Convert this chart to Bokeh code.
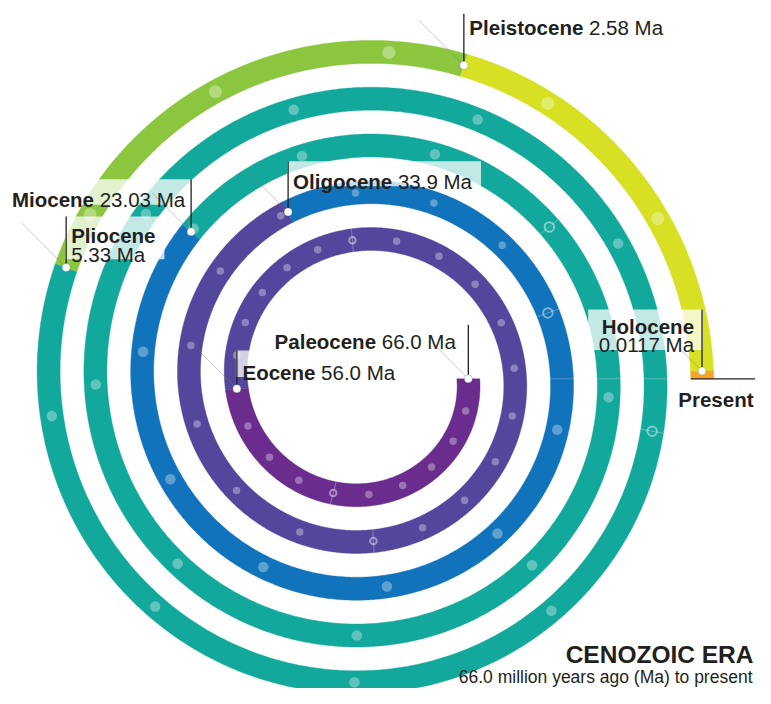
import numpy as np
from bokeh.plotting import figure
from bokeh.models import Range1d, ColumnDataSource
from bokeh.core.properties import value
from bokeh.embed import file_html
from bokeh.resources import INLINE

# ---------------- data ----------------
EPOCHS = ["Paleocene", "Eocene", "Oligocene", "Miocene", "Pliocene", "Pleistocene", "Holocene"]
START_MA = [66.0, 56.0, 33.9, 23.03, 5.33, 2.58, 0.0117]
START_TEXT = ["66.0 Ma", "56.0 Ma", "33.9 Ma", "23.03 Ma", "5.33 Ma", "2.58 Ma", "0.0117 Ma"]
PRESENT_MA = 0.0
TICK_EVERY_MA = 10      # hollow markers
DOT_EVERY_MA = 1        # small dots

TITLE = "CENOZOIC ERA"
SUBTITLE = "66.0 million years ago (Ma) to present"
END_LABEL = "Present"

# ---------------- style ----------------
COLORS = ["#6a2d8e", "#52479d", "#1073bb", "#13a89c", "#8cc63f", "#d7e023", "#f5a623"]
INK = "#231f20"
FONT = "Liberation Sans"
LABEL_PX = 20.5

# ---------------- spiral scale: age (Ma) -> degrees along the spiral ----------------
SCALE_AGE = [66.0, 60.0, 56.0, 50.0, 40.0, 33.9, 30.0, 23.03, 20.0, 15.0, 10.0, 5.33, 2.58, 0.0117, 0.0]
SCALE_DEG = [0.0, 105.0, 175.5, 265.3, 446.6, 605.6, 700.3, 940.4, 1040.7, 1258.8, 1450.3, 1640.5, 1727.7, 1798.7, 1800.0]

CX, CY = 363.3, 378.3
R0, PITCH, BAND = 104.5, 46.8, 23.0

W, H = 755, 688


def to_deg(age):
    return np.interp(np.asarray(age, float), SCALE_AGE[::-1], SCALE_DEG[::-1])


def pos(deg, off=0.0):
    deg = np.asarray(deg, float)
    r = R0 + PITCH * deg / 360.0 + off
    a = np.radians(deg)
    return CX + r * np.cos(a), CY + r * np.sin(a)


# Arial / Liberation Sans advance widths (1/1000 em) for label measuring
W_REG = {" ": 278, ".": 278, "M": 833, "a": 556}
W_REG.update({d: 556 for d in "0123456789"})
W_BOLD = {"P": 667, "a": 556, "l": 278, "e": 556, "o": 611, "c": 556, "n": 611, "E": 667,
          "O": 778, "i": 278, "g": 611, "M": 833, "H": 722, "s": 556, "t": 333, "r": 389}


def tw(s, table, px):
    return sum(table.get(ch, 556) for ch in s) * px / 1000.0


# label layout: side of the leader, leader length, baseline below leader top, gap, lines, faint diagonal length
LAYOUT = {
    "Paleocene":   dict(side="left",  leader=54.0, base=16.6, gap=12.5, lines=1, diag=52),
    "Eocene":      dict(side="right", leader=38.3, base=21.6, gap=5.6,  lines=1, diag=53),
    "Oligocene":   dict(side="right", leader=50.7, base=20.0, gap=5.0,  lines=1, diag=57),
    "Miocene":     dict(side="left",  leader=52.7, base=20.7, gap=6.0,  lines=1, diag=55),
    "Pliocene":    dict(side="right", leader=51.0, base=19.0, gap=5.0,  lines=2, diag=63),
    "Pleistocene": dict(side="right", leader=51.6, base=14.3, gap=5.5,  lines=1, diag=63),
    "Holocene":    dict(side="left",  leader=61.7, base=16.7, gap=8.0,  lines=2, diag=32),
}
LINE_STEP = 18.8

p = figure(width=W, height=H, x_range=Range1d(0, W), y_range=Range1d(H, 0),
           output_backend="svg", toolbar_location=None, min_border=0)
p.axis.visible = False
p.grid.visible = False
p.outline_line_color = None
p.background_fill_color = "white"
p.border_fill_color = "white"

# ---------------- spiral bands ----------------
ends = START_MA[1:] + [PRESENT_MA]
xs, ys = [], []
for a0, a1 in zip(START_MA, ends):
    d0, d1 = float(to_deg(a0)), float(to_deg(a1))
    n = max(2, int((d1 - d0) / 0.5) + 1)
    ds = np.linspace(d0, d1, n)
    xo, yo = pos(ds, BAND / 2)
    xi, yi = pos(ds[::-1], -BAND / 2)
    xs.append(list(xo) + list(xi))
    ys.append(list(yo) + list(yi))
p.patches(xs, ys, fill_color=COLORS, line_color=COLORS, line_width=0.4)

# faint joins on the right side
join_deg = np.array([720.0, 1080.0, 1440.0])
jx0, jy0 = pos(join_deg, -BAND / 2)
jx1, jy1 = pos(join_deg, BAND / 2)
p.segment(jx0, jy0, jx1, jy1, line_color="white", line_alpha=0.25, line_width=1)

# ---------------- 1-Ma dots and 10-Ma ticks ----------------
ages = np.arange(int(START_MA[0]) - DOT_EVERY_MA, 0, -DOT_EVERY_MA).astype(float)
is_tick = (ages % TICK_EVERY_MA) == 0
is_bound = np.isin(ages, START_MA)
dot_ages = ages[~is_tick & ~is_bound]
tick_ages = ages[is_tick]


def dot_size(a):
    return np.where(a > 30, 7.5, np.where(a > 5.33, 10.5, 13.0))


dx, dy = pos(to_deg(dot_ages))
p.scatter(dx, dy, size=dot_size(dot_ages), fill_color="white", fill_alpha=0.33, line_color=None)

td = to_deg(tick_ages)
tx0, ty0 = pos(td, -BAND / 2)
tx1, ty1 = pos(td, BAND / 2)
p.segment(tx0, ty0, tx1, ty1, line_color="white", line_alpha=0.3, line_width=1)
tx, ty = pos(td)
p.scatter(tx, ty, size=dot_size(tick_ages) - 1.0, fill_color=None, line_color="white",
          line_alpha=0.45, line_width=2)

# ---------------- labels ----------------
bold_l, bold_r, reg_l, reg_r = ([], [], []), ([], [], []), ([], [], []), ([], [], [])
box = dict(left=[], right=[], top=[], bottom=[])
lead = dict(x0=[], y0=[], x1=[], y1=[])
diag = dict(x0=[], y0=[], x1=[], y1=[])
ldx, ldy = [], []
SP = tw(" ", W_REG, LABEL_PX)


def put(store, x, y, t):
    store[0].append(x); store[1].append(y); store[2].append(t)


for name, age, txt in zip(EPOCHS, START_MA, START_TEXT):
    L = LAYOUT[name]
    xd, yd = pos(to_deg(age))
    xd, yd = float(xd), float(yd)
    top = yd - L["leader"]
    b1 = top + L["base"]
    lead["x0"].append(xd); lead["y0"].append(yd); lead["x1"].append(xd); lead["y1"].append(top)
    k = L["diag"] / np.sqrt(2)
    diag["x0"].append(xd); diag["y0"].append(yd); diag["x1"].append(xd - k); diag["y1"].append(yd - k)
    ldx.append(xd); ldy.append(yd)
    wb = tw(name, W_BOLD, LABEL_PX)
    wv = tw(txt, W_REG, LABEL_PX)
    if L["lines"] == 1:
        wtot = wb + SP + wv
        last = b1
    else:
        wtot = max(wb, wv)
        last = b1 + LINE_STEP
    if L["side"] == "right":
        x0 = xd + L["gap"]
        put(bold_l, x0, b1, name)
        if L["lines"] == 1:
            put(reg_l, x0 + wb + SP, b1, txt)
        else:
            put(reg_l, x0, last, txt)
        box["left"].append(xd - 1.0); box["right"].append(x0 + wtot + 9)
    else:
        xe = xd - L["gap"]
        if L["lines"] == 1:
            put(reg_r, xe, b1, txt)
            put(bold_r, xe - wv - SP, b1, name)
        else:
            put(bold_r, xe, b1, name)
            put(reg_r, xe, last, txt)
        box["left"].append(xe - wtot - 9); box["right"].append(xd + 1.0)
    box["top"].append(top); box["bottom"].append(last + 5)

p.quad(left=box["left"], right=box["right"], top=box["top"], bottom=box["bottom"],
       fill_color="white", fill_alpha=0.75, line_color=None)
p.segment(diag["x0"], diag["y0"], diag["x1"], diag["y1"], line_color="#7a7a7a",
          line_alpha=0.5, line_width=0.8)
p.segment(lead["x0"], lead["y0"], lead["x1"], lead["y1"], line_color=INK, line_width=1.3)
p.scatter(ldx, ldy, size=8, fill_color="white", line_color="#555555", line_alpha=0.35,
          line_width=0.8)


def draw_text(store, align, style):
    if not store[0]:
        return
    src = ColumnDataSource(dict(x=store[0], y=store[1], t=store[2]))
    p.text("x", "y", text="t", source=src, text_font=value(FONT), text_font_size=f"{LABEL_PX}px",
           text_font_style=style, text_align=align, text_baseline="alphabetic", text_color=INK)


draw_text(bold_l, "left", "bold")
draw_text(bold_r, "right", "bold")
draw_text(reg_l, "left", "normal")
draw_text(reg_r, "right", "normal")

# ---------------- present marker ----------------
xe_, ye_ = pos(to_deg(PRESENT_MA))
xe_, ye_ = float(xe_), float(ye_)
p.segment([xe_ - BAND / 2], [ye_], [W], [ye_], line_color=INK, line_width=1.3)
p.text([W - 2], [ye_ + 21], text=[END_LABEL], text_font=value(FONT),
       text_font_size=f"{LABEL_PX}px", text_font_style="bold", text_align="right",
       text_baseline="alphabetic", text_color=INK)

# ---------------- title ----------------
p.text([W - 2], [654], text=[TITLE], text_font=value(FONT), text_font_size="24.5px",
       text_font_style="bold", text_align="right", text_baseline="alphabetic", text_color=INK)
p.text([W - 3], [676.5], text=[SUBTITLE], text_font=value(FONT), text_font_size="17.5px",
       text_font_style="normal", text_align="right", text_baseline="alphabetic", text_color=INK)

open("out.html", "w").write(file_html(p, INLINE))
